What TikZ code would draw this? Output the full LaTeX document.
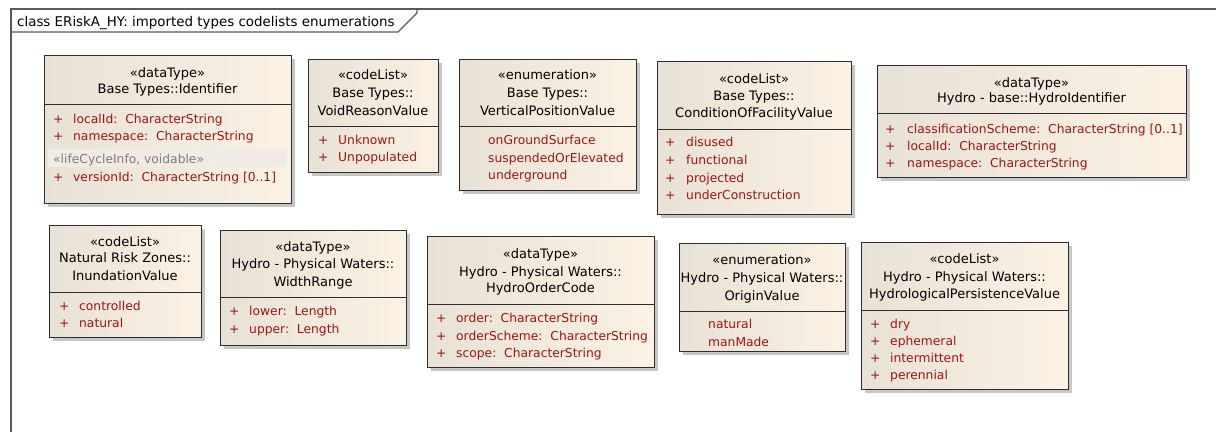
\documentclass[tikz,border=0pt]{standalone}
\usepackage{fontspec}
\setmainfont{DejaVu Sans}
\definecolor{boxl}{RGB}{232,225,213}
\definecolor{boxr}{RGB}{251,242,228}
\definecolor{boxline}{RGB}{45,45,45}
\definecolor{shadowc}{RGB}{198,198,198}
\definecolor{itemred}{RGB}{160,20,20}
\definecolor{framec}{RGB}{90,90,90}
\definecolor{bandc}{RGB}{240,236,229}
\definecolor{graytext}{RGB}{125,125,125}
\newcommand\umlcls[6]{%
  \fill[shadowc,shift={(4,4)}] (#2,#3) rectangle (#4,#5);
  \node[umlbox, anchor=north west, minimum width={(#4-#2)*1pt}, minimum height={(#5-#3)*1pt}] (#1) at (#2,#3) {};
  \draw[sepline] (#2,#6) -- (#4,#6);
}
\tikzset{
  umlbox/.style={draw=boxline, line width=0.9pt, left color=boxl, right color=boxr, inner sep=0pt, outer sep=0pt},
  sepline/.style={draw=boxline, line width=0.9pt},
  txt/.style={font=\fontsize{12.3}{14}\selectfont, inner sep=0pt},
  hdr/.style={font=\fontsize{13}{15}\selectfont, inner sep=0pt, text=black, anchor=base},
  item/.style={txt, text=itemred, anchor=base west},
  stereo/.style={txt, text=graytext, anchor=base west},
  titletxt/.style={font=\fontsize{13.4}{15}\selectfont, inner sep=0pt, anchor=base west},
  band/.style={fill=bandc, draw=none},
  frameline/.style={draw=framec, line width=1.2pt},
}
\begin{document}
\begin{tikzpicture}[x=1pt,y=-1pt]
\useasboundingbox (0,0) rectangle (1216,432);
\fill[white] (0,0) rectangle (1216,432);
% frame
\draw[frameline] (11,432) -- (11,9) -- (1216,9);
\draw[frameline] (11,32) -- (398,32) -- (417,13) -- (417,9);
\node[titletxt] (title) at (17,26) {class ERiskA\_HY: imported types codelists enumerations};

% 1 Identifier
\umlcls{idf}{44}{55}{291}{203}{104}
\node[hdr] (idf-s) at (167.5,77) {«dataType»};
\node[hdr] (idf-n) at (167.5,93) {Base Types::Identifier};
\node[item] (idf-p1) at (53,123) {+};
\node[item] (idf-a1) at (73,123) {localId:\ \ CharacterString};
\node[item] (idf-p2) at (53,140) {+};
\node[item] (idf-a2) at (73,140) {namespace:\ \ CharacterString};
\fill[band] (48,149) rectangle (287,167);
\node[stereo] (idf-st) at (53,163) {«lifeCycleInfo, voidable»};
\node[item] (idf-p3) at (53,181) {+};
\node[item] (idf-a3) at (73,181) {versionId:\ \ CharacterString [0..1]};

% 2 VoidReasonValue
\umlcls{vrv}{308}{59}{438}{172}{126}
\node[hdr] (vrv-s) at (373,79) {«codeList»};
\node[hdr] (vrv-n1) at (373,97) {Base Types::};
\node[hdr] (vrv-n2) at (373,115) {VoidReasonValue};
\node[item] (vrv-p1) at (318,144) {+};
\node[item] (vrv-a1) at (338,144) {Unknown};
\node[item] (vrv-p2) at (318,161) {+};
\node[item] (vrv-a2) at (338,161) {Unpopulated};

% 3 VerticalPositionValue
\umlcls{vpv}{459}{59}{636}{190}{126}
\node[hdr] (vpv-s) at (547.5,79) {«enumeration»};
\node[hdr] (vpv-n1) at (547.5,97) {Base Types::};
\node[hdr] (vpv-n2) at (547.5,115) {VerticalPositionValue};
\node[item] (vpv-a1) at (488,144) {onGroundSurface};
\node[item] (vpv-a2) at (488,162) {suspendedOrElevated};
\node[item] (vpv-a3) at (488,179) {underground};

% 4 ConditionOfFacilityValue
\umlcls{cfv}{657}{61}{851}{214}{129}
\node[hdr] (cfv-s) at (754,83) {«codeList»};
\node[hdr] (cfv-n1) at (754,100) {Base Types::};
\node[hdr] (cfv-n2) at (754,117) {ConditionOfFacilityValue};
\node[item] (cfv-p1) at (665,146) {+};
\node[item] (cfv-a1) at (686,146) {disused};
\node[item] (cfv-p2) at (665,164) {+};
\node[item] (cfv-a2) at (686,164) {functional};
\node[item] (cfv-p3) at (665,182) {+};
\node[item] (cfv-a3) at (686,182) {projected};
\node[item] (cfv-p4) at (665,199) {+};
\node[item] (cfv-a4) at (686,199) {underConstruction};

% 5 HydroIdentifier
\umlcls{hid}{877}{65}{1186}{177}{113}
\node[hdr] (hid-s) at (1031.5,87) {«dataType»};
\node[hdr] (hid-n) at (1031.5,102) {Hydro - base::HydroIdentifier};
\node[item] (hid-p1) at (885,133) {+};
\node[item] (hid-a1) at (907,133) {classificationScheme:\ \ CharacterString [0..1]};
\node[item] (hid-p2) at (885,150) {+};
\node[item] (hid-a2) at (907,150) {localId:\ \ CharacterString};
\node[item] (hid-p3) at (885,167) {+};
\node[item] (hid-a3) at (907,167) {namespace:\ \ CharacterString};

% 6 InundationValue
\umlcls{inv}{49}{225}{201}{337}{292}
\node[hdr] (inv-s) at (125,246) {«codeList»};
\node[hdr] (inv-n1) at (125,262) {Natural Risk Zones::};
\node[hdr] (inv-n2) at (125,280) {InundationValue};
\node[item] (inv-p1) at (59,310) {+};
\node[item] (inv-a1) at (79,310) {controlled};
\node[item] (inv-p2) at (59,327) {+};
\node[item] (inv-a2) at (79,327) {natural};

% 7 WidthRange
\umlcls{wr}{220}{230}{406}{345}{297}
\node[hdr] (wr-s) at (313,251) {«dataType»};
\node[hdr] (wr-n1) at (313,268) {Hydro - Physical Waters::};
\node[hdr] (wr-n2) at (313,286) {WidthRange};
\node[item] (wr-p1) at (229,315) {+};
\node[item] (wr-a1) at (249,315) {lower:\ \ Length};
\node[item] (wr-p2) at (229,333) {+};
\node[item] (wr-a2) at (249,333) {upper:\ \ Length};

% 8 HydroOrderCode
\umlcls{hoc}{427}{236}{654}{367}{304}
\node[hdr] (hoc-s) at (540.5,258) {«dataType»};
\node[hdr] (hoc-n1) at (540.5,276) {Hydro - Physical Waters::};
\node[hdr] (hoc-n2) at (540.5,292) {HydroOrderCode};
\node[item] (hoc-p1) at (436,322) {+};
\node[item] (hoc-a1) at (456,322) {order:\ \ CharacterString};
\node[item] (hoc-p2) at (436,340) {+};
\node[item] (hoc-a2) at (456,340) {orderScheme:\ \ CharacterString};
\node[item] (hoc-p3) at (436,357) {+};
\node[item] (hoc-a3) at (456,357) {scope:\ \ CharacterString};

% 9 OriginValue
\umlcls{orv}{679}{243}{845}{351}{311}
\node[hdr] (orv-s) at (762,264) {«enumeration»};
\node[hdr] (orv-n1) at (762,282) {Hydro - Physical Waters::};
\node[hdr] (orv-n2) at (762,300) {OriginValue};
\node[item] (orv-a1) at (708,328) {natural};
\node[item] (orv-a2) at (708,346) {manMade};

% 10 HydrologicalPersistenceValue
\umlcls{hpv}{861}{242}{1068}{389}{310}
\node[hdr] (hpv-s) at (964.5,263) {«codeList»};
\node[hdr] (hpv-n1) at (964.5,281) {Hydro - Physical Waters::};
\node[hdr] (hpv-n2) at (964.5,298) {HydrologicalPersistenceValue};
\node[item] (hpv-p1) at (870,328) {+};
\node[item] (hpv-a1) at (890,328) {dry};
\node[item] (hpv-p2) at (870,345) {+};
\node[item] (hpv-a2) at (890,345) {ephemeral};
\node[item] (hpv-p3) at (870,362) {+};
\node[item] (hpv-a3) at (890,362) {intermittent};
\node[item] (hpv-p4) at (870,379) {+};
\node[item] (hpv-a4) at (890,379) {perennial};
\end{tikzpicture}
\end{document}
